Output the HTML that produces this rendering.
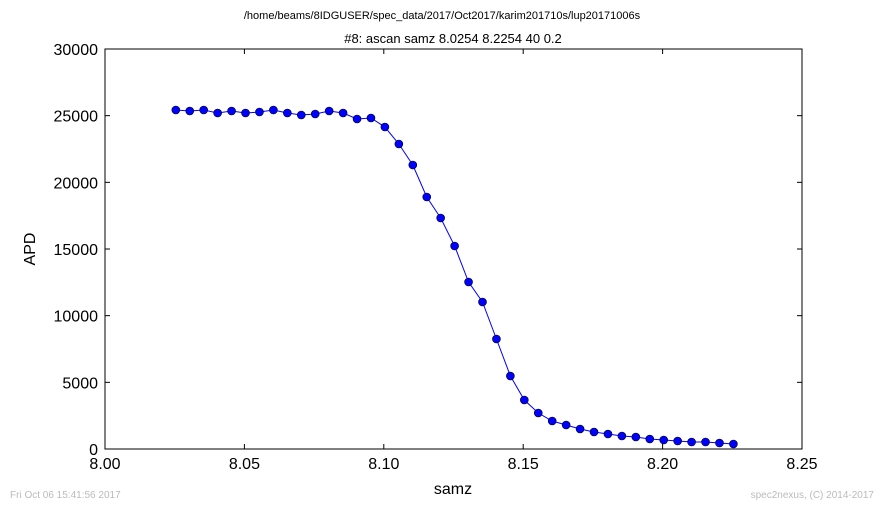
<!DOCTYPE html>
<html><head><meta charset="utf-8">
<style>
body{margin:0;background:#fff;}
svg text{font-family:"Liberation Sans",sans-serif;}
</style></head>
<body>
<svg id="chart" width="884" height="509" xmlns="http://www.w3.org/2000/svg">
<rect width="884" height="509" fill="#fff"/>
<text x="442" y="19" font-size="11" text-anchor="middle">/home/beams/8IDGUSER/spec_data/2017/Oct2017/karim201710s/lup20171006s</text>
<text x="453" y="43" font-size="13" text-anchor="middle">#8: ascan  samz 8.0254 8.2254  40 0.2</text>
<g id="ticks"></g>
<polyline id="line" fill="none" stroke="#0000ff" stroke-width="1"/>
<g id="points"></g>
<rect x="105" y="49" width="697" height="400" fill="none" stroke="#000" stroke-width="1"/>
<text x="453" y="494" font-size="16" text-anchor="middle">samz</text>
<text x="35" y="249" font-size="16" text-anchor="middle" transform="rotate(-90 35 249)">APD</text>
<text x="10" y="498" font-size="10" fill="#bbb">Fri Oct 06 15:41:56 2017</text>
<text x="874" y="498" font-size="10" fill="#bbb" text-anchor="end">spec2nexus, (C) 2014-2017</text>
</svg>
<script>
const xValues=[8.0254,8.0304,8.0354,8.0404,8.0454,8.0504,8.0554,8.0604,8.0654,8.0704,8.0754,8.0804,8.0854,8.0904,8.0954,8.1004,8.1054,8.1104,8.1154,8.1204,8.1254,8.1304,8.1354,8.1404,8.1454,8.1504,8.1554,8.1604,8.1654,8.1704,8.1754,8.1804,8.1854,8.1904,8.1954,8.2004,8.2054,8.2104,8.2154,8.2204,8.2254];
const apdValues=[25425,25350,25425,25200,25350,25200,25275,25425,25200,25050,25125,25350,25200,24750,24825,24150,22875,21300,18900,17325,15225,12525,11025,8250,5475,3675,2700,2100,1800,1500,1275,1125,975,900,750,675,600,525,525,450,375];
const xTicks=[8.00,8.05,8.10,8.15,8.20,8.25];
const yTicks=[0,5000,10000,15000,20000,25000,30000];
const X0=105,X1=802,Y0=449,Y1=49;
const sx=v=>X0+(v-8.0)/(0.25)*(X1-X0);
const sy=v=>Y0-(v/30000)*(Y0-Y1);
const NS="http://www.w3.org/2000/svg";
const tg=document.getElementById('ticks');
function mk(t,a,p){const e=document.createElementNS(NS,t);for(const k in a)e.setAttribute(k,a[k]);p.appendChild(e);return e;}
xTicks.forEach(v=>{const x=sx(v);
 mk('line',{x1:x,x2:x,y1:Y0,y2:Y0-5,stroke:'#000'},tg);
 mk('line',{x1:x,x2:x,y1:Y1,y2:Y1+5,stroke:'#000'},tg);
 const t=mk('text',{x:x,y:Y0+20,'font-size':16,'text-anchor':'middle'},tg);
 
 
 t.textContent=v.toFixed(2);});
yTicks.forEach(v=>{const y=sy(v);
 mk('line',{x1:X0,x2:X0+5,y1:y,y2:y,stroke:'#000'},tg);
 mk('line',{x1:X1,x2:X1-5,y1:y,y2:y,stroke:'#000'},tg);
 const t=mk('text',{x:X0-7,y:y+6,'font-size':16,'text-anchor':'end'},tg);
 
 
 t.textContent=String(v);});
document.getElementById('line').setAttribute('points',xValues.map((x,i)=>sx(x)+','+sy(apdValues[i])).join(' '));
const pg=document.getElementById('points');
xValues.forEach((x,i)=>{const c=mk('circle',{cx:sx(x),cy:sy(apdValues[i]),r:4,fill:'#0000ff',stroke:'#000','stroke-width':0.6},pg);
 
 });
</script>
</body></html>
